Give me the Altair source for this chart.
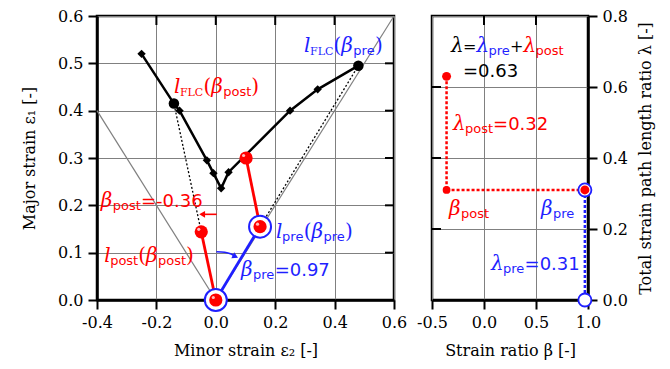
import altair as alt
import pandas as pd

RED = "#ff0000"
BLUE = "#1f1fff"
BLACK = "#000000"
GRAY = "#808080"

# ---------------- data ----------------
# forming limit curve (minor strain e2, major strain e1)
flc_e2 = [-0.25, -0.141, -0.122, -0.030, -0.008, 0.018, 0.043, 0.25, 0.343, 0.48]
flc_e1 = [0.52, 0.415, 0.40, 0.295, 0.268, 0.236, 0.27, 0.40, 0.445, 0.495]
flc_kind = ["d", "c", "d", "d", "d", "d", "d", "d", "d", "c"]

# strain paths
pre_e2 = [0.0, 0.149]
pre_e1 = [0.0, 0.155]
post_e2 = [0.149, 0.102]
post_e1 = [0.155, 0.30]
post0_e2 = [0.0, -0.049]
post0_e1 = [0.0, 0.144]
ext_post_e2 = [-0.049, -0.141]
ext_post_e1 = [0.144, 0.415]
ext_pre_e2 = [0.149, 0.48]
ext_pre_e1 = [0.155, 0.495]
ref_a_e2 = [-0.4, 0.0]
ref_a_e1 = [0.4, 0.0]
ref_b_e2 = [0.0, 0.6]
ref_b_e1 = [0.0, 0.6]
arrow_post_e2 = [0.003, -0.046]
arrow_post_e1 = [0.181, 0.181]
arrow_pre_e2 = [0.002, 0.03, 0.052, 0.066]
arrow_pre_e1 = [0.102, 0.101, 0.097, 0.092]
ring_e2 = [0.0, 0.149]
ring_e1 = [0.0, 0.155]
ball_e2 = [0.0, -0.049, 0.149, 0.102]
ball_e1 = [0.0, 0.144, 0.155, 0.30]

# strain ratio / path length ratio
beta_pre, beta_post = 0.97, -0.36
lam_pre, lam_post = 0.31, 0.32
lam_total = 0.63

x_ticks_left = [-0.4, -0.2, 0.0, 0.2, 0.4, 0.6]
y_ticks_left = [0.0, 0.1, 0.2, 0.3, 0.4, 0.5, 0.6]
x_ticks_right = [-0.5, 0.0, 0.5, 1.0]
y_ticks_right = [0.0, 0.2, 0.4, 0.6, 0.8]

WL, WR, H = 297, 156, 284

# ---------------- helpers ----------------
def seg_df(*segs):
    rows = []
    for g, (xs, ys) in enumerate(segs):
        for i, (a, b) in enumerate(zip(xs, ys)):
            rows.append({"x": a, "y": b, "g": g, "o": i})
    return pd.DataFrame(rows)


def pts(xs, ys):
    return pd.DataFrame({"x": xs, "y": ys})


def line(df, X, Y, **kw):
    return alt.Chart(df).mark_line(**kw).encode(x=X, y=Y, detail="g:N", order="o:Q")


CW = {
    "S": {"p": .635, "o": .612, "s": .521, "t": .392, "r": .411, "e": .615,
          "=": .838, "-": .361, ".": .318, "+": .838,
          **{d: .636 for d in "0123456789"}},
    "I": {"β": .60, "λ": .60, "l": .30},
    "F": {"F": .72, "L": .69, "C": .73, "(": .39, ")": .39, "=": .838, "+": .838},
}


def build_text(anns, ppu):
    rows = []
    for x0, y0, pieces in anns:
        off = 0.0
        for t, f, s, sub, c in pieces:
            rows.append({"x": x0 + off / ppu, "y": y0, "t": t, "f": f,
                         "fs": s, "sub": sub, "col": c})
            off += sum(CW[f].get(ch, .6) for ch in t) * s
    return pd.DataFrame(rows)


def text_layers(df, X, Y):
    out = []
    for f, font, style in [("S", "DejaVu Sans", "normal"),
                           ("I", "DejaVu Serif", "italic"),
                           ("F", "DejaVu Serif", "normal")]:
        for sub in (0, 1):
            d = df[(df["f"] == f) & (df["sub"] == sub)]
            if len(d) == 0:
                continue
            out.append(
                alt.Chart(d).mark_text(align="left", baseline="alphabetic",
                                       font=font, fontStyle=style,
                                       dy=3 if sub else 0)
                .encode(x=X, y=Y, text="t:N",
                        size=alt.Size("fs:Q", scale=None),
                        color=alt.Color("col:N", scale=None)))
    return out


LABEL = "datum.value < 0 ? '-' + format(-datum.value, '.1f') : format(datum.value, '.1f')"

# ---------------- left panel ----------------
XL = alt.X("x:Q", scale=alt.Scale(domain=[-0.4, 0.6], nice=False, zero=False),
           axis=alt.Axis(values=x_ticks_left, title="Minor strain ε₂ [-]", labelExpr=LABEL))
YL = alt.Y("y:Q", scale=alt.Scale(domain=[0.0, 0.6], nice=False, zero=False),
           axis=alt.Axis(values=y_ticks_left, title="Major strain ε₁ [-]", labelExpr=LABEL,
                         titlePadding=20))

R, B, K = RED, BLUE, BLACK
ann_left = [
    (0.297, 0.523, [("l", "I", 20, 0, B), ("FLC", "F", 11, 1, B), ("(", "F", 20, 0, B),
                    ("β", "I", 20, 0, B), ("pre", "S", 13, 1, B), (")", "F", 20, 0, B)]),
    (-0.141, 0.437, [("l", "I", 20, 0, R), ("FLC", "F", 11, 1, R), ("(", "F", 20, 0, R),
                     ("β", "I", 20, 0, R), ("post", "S", 13, 1, R), (")", "F", 20, 0, R)]),
    (-0.387, 0.196, [("β", "I", 20, 0, R), ("post", "S", 13, 1, R),
                     (f"={beta_post:.2f}", "S", 18, 0, R)]),
    (-0.376, 0.081, [("l", "I", 20, 0, R), ("post", "S", 13, 1, R), ("(", "F", 20, 0, R),
                     ("β", "I", 20, 0, R), ("post", "S", 13, 1, R), (")", "F", 20, 0, R)]),
    (0.203, 0.130, [("l", "I", 20, 0, B), ("pre", "S", 13, 1, B), ("(", "F", 20, 0, B),
                    ("β", "I", 20, 0, B), ("pre", "S", 13, 1, B), (")", "F", 20, 0, B)]),
    (0.085, 0.050, [("β", "I", 20, 0, B), ("pre", "S", 13, 1, B),
                    (f"={beta_pre:.2f}", "S", 18, 0, B)]),
]
txt_left = build_text(ann_left, WL / 1.0)

flc = pd.DataFrame({"x": flc_e2, "y": flc_e1, "k": flc_kind, "o": range(len(flc_e2))})

left_layers = [
    line(seg_df((ref_a_e2, ref_a_e1), (ref_b_e2, ref_b_e1)), XL, YL, color=GRAY, strokeWidth=1.2),
    line(seg_df((ext_post_e2, ext_post_e1), (ext_pre_e2, ext_pre_e1)), XL, YL,
         color=BLACK, strokeWidth=1.3, strokeDash=[2, 2]),
    alt.Chart(flc).mark_line(color=BLACK, strokeWidth=2.5).encode(x=XL, y=YL, order="o:Q"),
    alt.Chart(flc[flc.k == "d"]).mark_point(shape="diamond", filled=True, color=BLACK,
                                            size=70, opacity=1).encode(x=XL, y=YL),
    alt.Chart(flc[flc.k == "c"]).mark_point(shape="circle", filled=True, color=BLACK,
                                            size=110, opacity=1).encode(x=XL, y=YL),
    line(seg_df((pre_e2, pre_e1)), XL, YL, color=BLUE, strokeWidth=2.8),
    line(seg_df((post_e2, post_e1), (post0_e2, post0_e1)), XL, YL, color=RED, strokeWidth=2.8),
    line(seg_df((arrow_post_e2, arrow_post_e1)), XL, YL, color=RED, strokeWidth=1.6),
    alt.Chart(pts(arrow_post_e2[-1:], arrow_post_e1[-1:])).mark_point(
        shape="triangle-left", filled=True, color=RED, size=45, opacity=1).encode(x=XL, y=YL),
    line(seg_df((arrow_pre_e2, arrow_pre_e1)), XL, YL, color=BLUE, strokeWidth=1.6, interpolate="monotone"),
    alt.Chart(pts(arrow_pre_e2[-1:], arrow_pre_e1[-1:])).mark_point(
        shape="triangle-right", filled=True, color=BLUE, size=45, opacity=1, angle=25).encode(x=XL, y=YL),
    alt.Chart(pts(ring_e2, ring_e1)).mark_point(shape="circle", fill="white", stroke=BLUE,
                                                strokeWidth=2, size=484, opacity=1,
                                                fillOpacity=1).encode(x=XL, y=YL),
    alt.Chart(pts(ball_e2, ball_e1)).mark_point(shape="circle", filled=True, color=RED,
                                                size=175, opacity=1).encode(x=XL, y=YL),
    alt.Chart(pts(ball_e2, ball_e1)).mark_point(shape="circle", filled=True, color="white",
                                                size=10, opacity=0.75, xOffset=-2.5,
                                                yOffset=-2.5).encode(x=XL, y=YL),
    alt.Chart(pd.DataFrame({"x": x_ticks_left[1:-1]})).mark_rule(color=BLACK, strokeWidth=2)
    .encode(x=XL, y=alt.value(0), y2=alt.value(9)),
    alt.Chart(pd.DataFrame({"y": y_ticks_left[1:-1]})).mark_rule(color=BLACK, strokeWidth=2)
    .encode(y=YL, x=alt.value(WL - 9), x2=alt.value(WL)),
] + text_layers(txt_left, XL, YL)

left = alt.layer(*left_layers).properties(width=WL, height=H)

# ---------------- right panel ----------------
XR = alt.X("x:Q", scale=alt.Scale(domain=[-0.5, 1.0], nice=False, zero=False),
           axis=alt.Axis(values=x_ticks_right, title="Strain ratio β [-]", labelExpr=LABEL))
YR = alt.Y("y:Q", scale=alt.Scale(domain=[0.0, 0.8], nice=False, zero=False),
           axis=alt.Axis(values=y_ticks_right, orient="right",
                         title="Total strain path length ratio λ [-]", labelExpr=LABEL,
                         titleAngle=270, titleBaseline="top", titlePadding=10))

ann_right = [
    (-0.317, 0.70, [("λ", "I", 20, 0, K), ("=", "F", 16, 0, K), ("λ", "I", 20, 0, B),
                    ("pre", "S", 13, 1, B), ("+", "F", 16, 0, K), ("λ", "I", 20, 0, R),
                    ("post", "S", 13, 1, R)]),
    (-0.202, 0.629, [(f"={lam_total:.2f}", "S", 18, 0, K)]),
    (-0.298, 0.479, [("λ", "I", 20, 0, R), ("post", "S", 13, 1, R),
                     (f"={lam_post:.2f}", "S", 18, 0, R)]),
    (-0.337, 0.239, [("β", "I", 20, 0, R), ("post", "S", 13, 1, R)]),
    (0.548, 0.239, [("β", "I", 20, 0, B), ("pre", "S", 13, 1, B)]),
    (0.067, 0.0845, [("λ", "I", 20, 0, B), ("pre", "S", 13, 1, B),
                     (f"={lam_pre:.2f}", "S", 18, 0, B)]),
]
txt_right = build_text(ann_right, WR / 1.5)

right_layers = [
    line(seg_df(([beta_post, beta_post], [lam_total, lam_pre]),
                ([beta_post, beta_pre], [lam_pre, lam_pre])), XR, YR,
         color=RED, strokeWidth=2.5, strokeDash=[3, 2]),
    line(seg_df(([beta_pre, beta_pre], [lam_pre, 0.0])), XR, YR,
         color=BLUE, strokeWidth=2.5, strokeDash=[3, 2]),
    alt.Chart(pts([beta_pre], [lam_pre])).mark_point(shape="circle", fill="white", stroke=BLUE,
                                                     strokeWidth=1.8, size=170, opacity=1,
                                                     fillOpacity=1).encode(x=XR, y=YR),
    alt.Chart(pts([beta_pre], [0.0])).mark_point(shape="circle", fill="white", stroke=BLUE,
                                                 strokeWidth=1.8, size=170, opacity=1,
                                                 fillOpacity=1).encode(x=XR, y=YR),
    alt.Chart(pts([beta_post, beta_pre], [lam_total, lam_pre])).mark_point(
        shape="circle", filled=True, color=RED, size=80, opacity=1).encode(x=XR, y=YR),
    alt.Chart(pts([beta_post], [lam_pre])).mark_point(
        shape="circle", filled=True, color=RED, size=60, opacity=1).encode(x=XR, y=YR),
    alt.Chart(pd.DataFrame({"x": x_ticks_right[1:-1]})).mark_rule(color=BLACK, strokeWidth=2)
    .encode(x=XR, y=alt.value(0), y2=alt.value(9)),
    alt.Chart(pd.DataFrame({"y": y_ticks_right[1:-1]})).mark_rule(color=BLACK, strokeWidth=2)
    .encode(y=YR, x=alt.value(0), x2=alt.value(9)),
] + text_layers(txt_right, XR, YR)

right = alt.layer(*right_layers).properties(width=WR, height=H)

chart = (
    alt.hconcat(left, right, spacing=38, bounds="flush")
    .properties(padding={"left": 20, "top": 6, "right": 6, "bottom": 4})
    .configure_view(stroke=BLACK, strokeWidth=2.5)
    .configure_axis(
        labelFont="DejaVu Serif", labelFontSize=16, labelColor=BLACK, labelPadding=5,
        labelFlush=False, labelOverlap=False,
        titleFont="DejaVu Serif", titleFontSize=16, titleFontWeight="normal", titleColor=BLACK,
        tickColor=BLACK, tickWidth=2, tickSize=9,
        domainColor=BLACK, domainWidth=2.5,
        gridColor=GRAY, gridWidth=1, gridOpacity=1,
    )
    .configure_axisX(titlePadding=12)
)

chart.save("out.html", embed_options={"renderer": "svg", "actions": False})
